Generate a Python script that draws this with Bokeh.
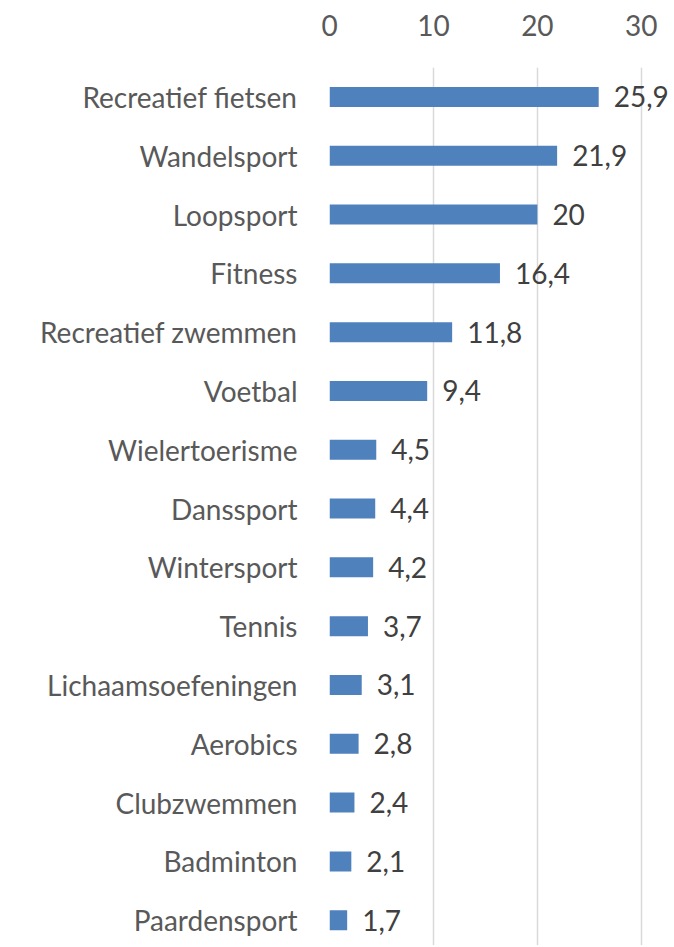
from bokeh.plotting import figure
from bokeh.models import Range1d, FixedTicker, ColumnDataSource
from bokeh.core.properties import value
from bokeh.embed import file_html
from bokeh.resources import INLINE

categories = ["Recreatief fietsen", "Wandelsport", "Loopsport", "Fitness",
              "Recreatief zwemmen", "Voetbal", "Wielertoerisme", "Danssport",
              "Wintersport", "Tennis", "Lichaamsoefeningen", "Aerobics",
              "Clubzwemmen", "Badminton", "Paardensport"]
values = [25.9, 21.9, 20, 16.4, 11.8, 9.4, 4.5, 4.4, 4.2, 3.7, 3.1, 2.8, 2.4, 2.1, 1.7]
labels = ["25,9", "21,9", "20", "16,4", "11,8", "9,4", "4,5", "4,4", "4,2",
          "3,7", "3,1", "2,8", "2,4", "2,1", "1,7"]
x_ticks = [0, 10, 20, 30]

FONT = "Lato"
FS = "28px"
pos = list(range(len(categories)))
src = ColumnDataSource(dict(y=pos, v=values, lab=labels))

p = figure(width=672, height=945, output_backend="svg", toolbar_location=None,
           x_range=Range1d(0, 33.0), y_range=Range1d(14.43, -0.5),
           x_axis_location="above",
           min_border_left=329, min_border_right=0, min_border_top=67,
           min_border_bottom=0)
p.outline_line_color = None
p.hbar(y="y", right="v", left=0, height=0.34, source=src,
       fill_color="#4F81BD", line_color=None)
p.text(x="v", y="y", text="lab", source=src, x_offset=15,
       text_baseline="middle", text_align="left",
       text_font=value(FONT), text_font_size=FS, text_color="#404040")

xa = p.xaxis[0]
xa.ticker = FixedTicker(ticks=x_ticks)
xa.axis_line_color = None
xa.major_tick_line_color = None
xa.minor_tick_line_color = None
xa.major_label_text_font = FONT
xa.major_label_text_font_size = FS
xa.major_label_text_color = "#595959"
xa.major_label_standoff = 26

ya = p.yaxis[0]
ya.ticker = FixedTicker(ticks=pos)
ya.major_label_overrides = {i: c for i, c in enumerate(categories)}
ya.axis_line_color = None
ya.major_tick_line_color = None
ya.minor_tick_line_color = None
ya.major_label_text_font = FONT
ya.major_label_text_font_size = FS
ya.major_label_text_color = "#595959"
ya.major_label_standoff = 26

p.xgrid.ticker = FixedTicker(ticks=x_ticks)
p.xgrid.grid_line_color = "#D9D9D9"
p.xgrid.grid_line_width = 1.5
p.ygrid.grid_line_color = None

open("out.html", "w").write(file_html(p, INLINE))
